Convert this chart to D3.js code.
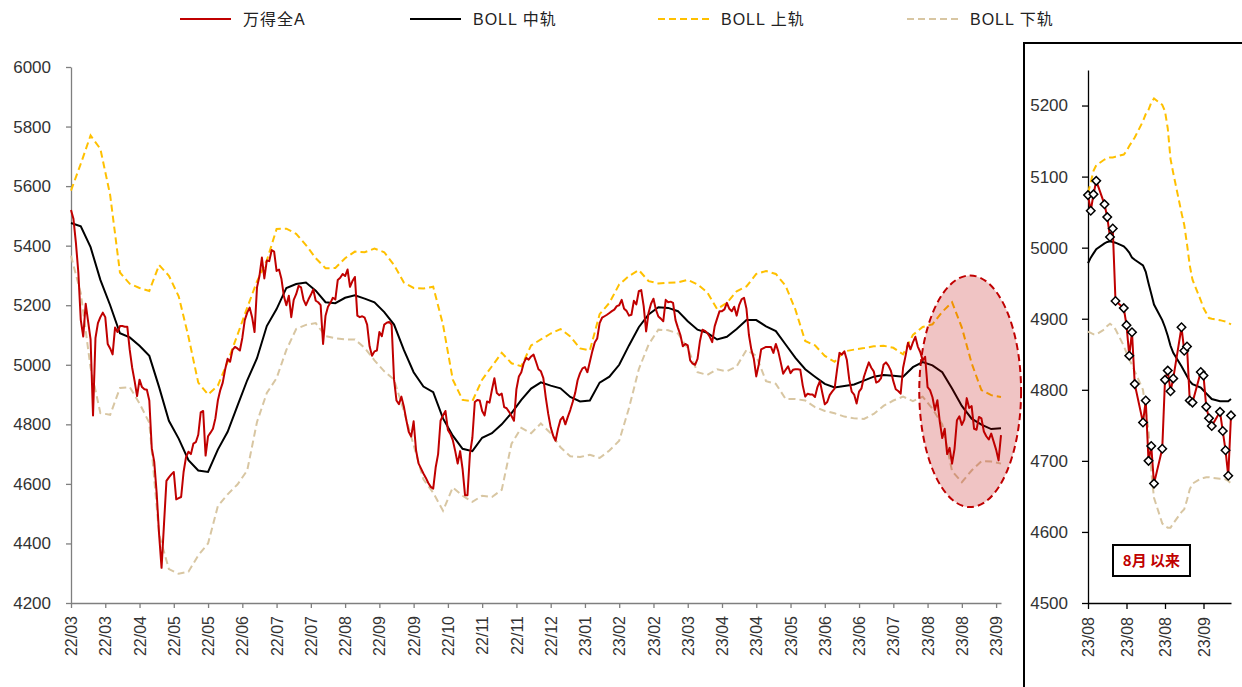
<!DOCTYPE html>
<html>
<head>
<meta charset="utf-8">
<script src="https://cdn.jsdelivr.net/npm/d3@7"></script>
<style>
  body { margin: 0; background: #fff; }
  text { font-family: "Liberation Sans", Arial, "Noto Sans CJK SC", sans-serif; }
</style>
</head>
<body>
<div id="chart"></div>
<script>
// x labels of the main chart, one every 14 trading days
var mainTickLabels = ["22/03", "22/03", "22/04", "22/05", "22/05", "22/06", "22/07", "22/07", "22/08", "22/09",
  "22/09", "22/10", "22/11", "22/11", "22/12", "23/01", "23/02", "23/02", "23/03", "23/04", "23/04", "23/05",
  "23/06", "23/06", "23/07", "23/08", "23/08", "23/09"];
var mainTickStep = 14;
var mainYTicks = [4200, 4400, 4600, 4800, 5000, 5200, 5400, 5600, 5800, 6000];

// wind all A close, daily, from 22/03 to end of July 23
var closeMain = [
  5520, 5490, 5410, 5310, 5150, 5095, 5205, 5145, 5085, 4830,
  5090, 5140, 5160, 5175, 5160, 5070, 5055, 5035, 5125, 5110,
  5130, 5130, 5128, 5128, 5050, 4990, 4945, 4895, 4950, 4925,
  4918, 4916, 4880, 4720, 4675, 4570, 4430, 4318, 4465, 4610,
  4622, 4632, 4640, 4548, 4552, 4556, 4640, 4690, 4708, 4700,
  4735, 4740, 4765, 4840, 4845, 4695, 4760, 4772, 4785, 4820,
  4880, 4915, 4940, 4985, 5020, 5010, 5050, 5060, 5055, 5048,
  5090, 5150, 5175, 5192, 5160, 5110, 5260, 5298, 5360, 5290,
  5350, 5348, 5385, 5380, 5315, 5320, 5288, 5230, 5200, 5232,
  5160, 5218, 5237, 5265,
  5260, 5219, 5200, 5219, 5235, 5253, 5215, 5210, 5200, 5070,
  5165, 5195, 5208, 5225, 5219, 5285, 5292, 5305, 5298, 5320,
  5262, 5281, 5295, 5165, 5160, 5163, 5158, 5135, 5062, 5030,
  5045, 5048, 5110, 5096, 5135, 5141, 5144, 5135, 4950, 4880,
  4868, 4893, 4860, 4815, 4775, 4759, 4810, 4712, 4669, 4652,
  4635, 4620, 4603, 4590, 4584, 4655, 4700, 4812, 4830, 4845,
  4781, 4768, 4747, 4710, 4668, 4710, 4650, 4562, 4562, 4700,
  4755, 4875, 4882, 4880, 4845, 4830, 4877, 4873, 4916, 4955,
  4905, 4898, 4903, 4858, 4854, 4842, 4828, 4812, 4918, 4961,
  4975, 5006, 5023, 5017, 5028,
  5034, 5010, 4985, 4978, 4955, 4890, 4835, 4790, 4762, 4745,
  4785, 4815, 4825, 4800, 4825, 4848, 4875, 4905, 4948, 4972,
  4988, 4992, 4975, 5010, 5045, 5075, 5088, 5140, 5158, 5163,
  5168, 5174, 5180, 5185, 5197, 5200, 5218, 5188, 5181, 5165,
  5168, 5215, 5203, 5247, 5251, 5197, 5112, 5175, 5205, 5222,
  5185, 5162, 5155, 5146, 5218, 5210, 5212, 5208, 5150, 5124,
  5100, 5062, 5070, 5065, 5015, 5004, 5000, 5020, 5080, 5118,
  5114, 5107, 5094, 5076, 5129, 5155, 5180, 5180, 5186, 5208,
  5188, 5180, 5195, 5165, 5200, 5220, 5225, 5188, 5100, 5051,
  5020, 4961, 5000,
  5052, 5056, 5060, 5060, 5060, 5040, 5070, 5045, 5008, 4970,
  4983, 4995, 4972, 4983, 4985, 4985, 4983, 4930, 4893, 4903,
  4900, 4900, 4892, 4925, 4945, 4905, 4867, 4875, 4898, 4910,
  4920, 4983, 5040, 5034, 5045, 5017, 4950, 4910, 4900, 4870,
  4910, 4921, 4960, 4985, 5008, 4990, 4978, 4940, 4944, 4955,
  5000, 5008, 4997, 4980, 4945, 4918, 4912, 4903, 4990, 5030
];

// since August (also the end of the main series)
var augDates = ["2023-08-01", "2023-08-02", "2023-08-03", "2023-08-04", "2023-08-07", "2023-08-08",
  "2023-08-09", "2023-08-10", "2023-08-11", "2023-08-14", "2023-08-15", "2023-08-16", "2023-08-17",
  "2023-08-18", "2023-08-21", "2023-08-22", "2023-08-23", "2023-08-24", "2023-08-25", "2023-08-28",
  "2023-08-29", "2023-08-30", "2023-08-31", "2023-09-01", "2023-09-04", "2023-09-05", "2023-09-06",
  "2023-09-07", "2023-09-08", "2023-09-11", "2023-09-12", "2023-09-13", "2023-09-14", "2023-09-15",
  "2023-09-18", "2023-09-19", "2023-09-20", "2023-09-21", "2023-09-22"];
var closeAug = [5074, 5052, 5075, 5094, 5061, 5043, 5015, 5027, 4925, 4915, 4891, 4848, 4881, 4808,
  4754, 4785, 4700, 4721, 4668, 4717, 4814, 4827, 4798, 4816, 4888, 4855, 4861, 4785, 4782, 4825,
  4820, 4776, 4760, 4749, 4769, 4742, 4715, 4679, 4764];
var augMid = [4978, 4986, 4992, 4998, 5006, 5008, 5009, 5008, 5007, 5002, 4998, 4993, 4986, 4983,
  4975, 4966, 4950, 4935, 4920, 4898, 4888, 4876, 4862, 4852, 4833, 4826, 4819, 4812, 4808, 4803,
  4799, 4795, 4791, 4787, 4784, 4784, 4784, 4784, 4787];
var augUp = [5077, 5092, 5108, 5116, 5124, 5126, 5127, 5127, 5128, 5131, 5136, 5143, 5149, 5155,
  5178, 5188, 5194, 5204, 5210, 5201, 5192, 5168, 5125, 5105, 5049, 5032, 5005, 4975, 4955, 4926,
  4915, 4908, 4901, 4900, 4898, 4897, 4896, 4894, 4892];
var augLow = [4882, 4880, 4878, 4878, 4885, 4890, 4893, 4890, 4885, 4862, 4852, 4843, 4835, 4826,
  4800, 4770, 4744, 4685, 4648, 4612, 4608, 4606, 4606, 4612, 4628, 4632, 4645, 4660, 4668, 4675,
  4676, 4677, 4677, 4676, 4675, 4675, 4674, 4672, 4668];
var augTicks = ["2023-08-01", "2023-08-15", "2023-08-29", "2023-09-12"];
var augYTicks = [4500, 4600, 4700, 4800, 4900, 5000, 5100, 5200];

// BOLL bands of the main chart, one value every 4 trading days
var bollStep = 4;
var bollMid = [5476, 5465, 5395, 5285, 5200, 5106, 5092, 5064, 5030, 4925, 4812, 4752, 4680, 4645,
  4640, 4715, 4775, 4862, 4948, 5022, 5130, 5187, 5258, 5271,
  5276, 5249, 5210, 5207, 5225, 5233, 5222, 5210, 5177, 5135, 5050, 4975, 4927, 4908, 4820, 4762,
  4718, 4710, 4755, 4770, 4800, 4838, 4882, 4920,
  4941, 4930, 4921, 4892, 4877, 4880, 4940, 4960, 5000, 5065, 5126, 5169, 5193, 5191, 5180, 5146,
  5118, 5107, 5085, 5094, 5120, 5150, 5150,
  5129, 5113, 5068, 5023, 4985, 4960, 4936, 4924, 4929, 4934, 4947, 4960, 4966, 4963, 4960, 4992,
  5009, 4998, 4975, 4920, 4862, 4819, 4799, 4784, 4787];
var bollUp = [5585, 5675, 5770, 5725, 5570, 5310, 5272, 5258, 5248, 5335, 5299, 5230, 5094, 4940,
  4900, 4930, 5010, 5100, 5192, 5280, 5350, 5456, 5457, 5440,
  5402, 5358, 5324, 5325, 5358, 5380, 5378, 5390, 5378, 5335, 5276, 5258, 5256, 5262, 5135, 4950,
  4882, 4878, 4950, 4995, 5040, 5005, 4995, 5065,
  5085, 5105, 5120, 5095, 5055, 5048, 5170, 5208, 5270, 5298, 5318, 5281, 5273, 5275, 5277, 5285,
  5270, 5243, 5187, 5208, 5247, 5263, 5305,
  5315, 5305, 5265, 5185, 5080, 5065, 5030, 5010, 5045, 5051, 5056, 5062, 5064, 5057, 5035, 5100,
  5127, 5136, 5178, 5210, 5125, 5005, 4915, 4898, 4892];
var bollLow = [5366, 5240, 4990, 4838, 4832, 4922, 4925, 4870, 4805, 4430, 4314, 4298, 4305, 4360,
  4400, 4525, 4565, 4598, 4645, 4808, 4905, 4955, 5050, 5120,
  5134, 5140, 5096, 5089, 5085, 5085, 5057, 5015, 4978, 4950, 4845, 4730, 4615, 4570, 4510, 4588,
  4560, 4540, 4560, 4556, 4580, 4735, 4788, 4770,
  4803, 4770, 4723, 4693, 4690, 4698, 4687, 4712, 4745, 4855, 4985, 5068, 5118, 5116, 5105, 5055,
  4975, 4966, 4985, 4978, 4995, 5050, 5030,
  4945, 4936, 4885, 4885, 4880, 4858, 4845, 4837, 4826, 4820, 4818, 4835, 4862, 4880, 4893, 4878,
  4893, 4852, 4800, 4643, 4606, 4645, 4676, 4675, 4668];

var seriesNames = ["万得全A", "BOLL 中轨", "BOLL 上轨", "BOLL 下轨"];

// colours
var cRed = "#c00000", cBlack = "#000000", cUp = "#ffc000", cLow = "#d8c6a2";

var closeAll = closeMain.concat(closeAug);
var parseDay = d3.timeParse("%Y-%m-%d");
var fmtInt = d3.format("d");

var svg = d3.select("#chart")
  .append("svg")
  .attr("width", 1242)
  .attr("height", 687);

// ---------- legend
var legendItems = [
  { name: seriesNames[0], color: cRed, dash: null, x: 180 },
  { name: seriesNames[1], color: cBlack, dash: null, x: 410 },
  { name: seriesNames[2], color: cUp, dash: "7,4", x: 658 },
  { name: seriesNames[3], color: cLow, dash: "7,4", x: 907 }
];
var legend = svg.append("g").attr("class", "legend");
legendItems.forEach(function(d) {
  legend.append("line")
    .attr("x1", d.x).attr("x2", d.x + 51)
    .attr("y1", 19).attr("y2", 19)
    .attr("stroke", d.color)
    .attr("stroke-width", 2)
    .attr("stroke-dasharray", d.dash);
  legend.append("text")
    .attr("x", d.x + 63)
    .attr("y", 19)
    .attr("dy", "0.35em")
    .style("font-size", "16px")
    .style("letter-spacing", "1px")
    .attr("fill", "#222")
    .text(d.name);
});

// ---------- main chart
var x = d3.scaleLinear().domain([0, closeAll.length - 1]).range([71, 1001]);
var y = d3.scaleLinear().domain([4200, 6000]).range([603, 67]);

var yAxis = svg.append("g")
  .attr("transform", "translate(71,0)")
  .call(d3.axisLeft(y).tickValues(mainYTicks).tickFormat(fmtInt)
    .tickSize(5).tickSizeOuter(0).tickPadding(15));
yAxis.selectAll("text").style("font-size", "17px").attr("fill", "#333");

var xAxis = svg.append("g")
  .attr("transform", "translate(0,603)")
  .call(d3.axisBottom(x)
    .tickValues(mainTickLabels.map(function(d, i) { return i * mainTickStep; }))
    .tickFormat(function(d, i) { return mainTickLabels[i]; })
    .tickSize(5).tickSizeOuter(0));
xAxis.selectAll("text")
  .attr("transform", "rotate(-90)")
  .attr("x", -13)
  .attr("y", 0)
  .attr("dy", "0.35em")
  .style("text-anchor", "end")
  .style("font-size", "16px")
  .attr("fill", "#333");

[yAxis, xAxis].forEach(function(a) {
  a.select(".domain").attr("stroke", "#7f7f7f").attr("stroke-width", 1.3);
  a.selectAll(".tick line").attr("stroke", "#7f7f7f").attr("stroke-width", 1.3);
});

var bollLine = d3.line()
  .x(function(d, i) { return x(i * bollStep); })
  .y(function(d) { return y(d); });
var closeLine = d3.line()
  .x(function(d, i) { return x(i); })
  .y(function(d) { return y(d); });

svg.append("path").datum(bollLow)
  .attr("d", bollLine).attr("fill", "none")
  .attr("stroke", cLow).attr("stroke-width", 2).attr("stroke-dasharray", "7,4");
svg.append("path").datum(bollUp)
  .attr("d", bollLine).attr("fill", "none")
  .attr("stroke", cUp).attr("stroke-width", 2).attr("stroke-dasharray", "7,4");
svg.append("path").datum(bollMid)
  .attr("d", bollLine).attr("fill", "none")
  .attr("stroke", cBlack).attr("stroke-width", 2);
svg.append("path").datum(closeAll)
  .attr("d", closeLine).attr("fill", "none")
  .attr("stroke", cRed).attr("stroke-width", 2).attr("stroke-linejoin", "round");

// highlight of the august drop
svg.append("ellipse")
  .attr("cx", x(367.4))
  .attr("cy", y(4911))
  .attr("rx", x(388.2) - x(367.4))
  .attr("ry", y(4522) - y(4911))
  .attr("fill", "rgba(192,0,0,0.23)")
  .attr("stroke", cRed)
  .attr("stroke-width", 2)
  .attr("stroke-dasharray", "7,4");

// ---------- right panel: since August
svg.append("rect")
  .attr("x", 1024).attr("y", 43)
  .attr("width", 240).attr("height", 660)
  .attr("fill", "none")
  .attr("stroke", "#000")
  .attr("stroke-width", 2);

var augX = augDates.map(parseDay);
var xr = d3.scaleTime().domain([augX[0], augX[augX.length - 1]]).range([1088, 1231]);
var yr = d3.scaleLinear().domain([4500, 5250]).range([603, 70]);

var ryAxis = svg.append("g")
  .attr("transform", "translate(1088,0)")
  .call(d3.axisLeft(yr).tickValues(augYTicks).tickFormat(fmtInt)
    .tickSize(6).tickSizeOuter(0).tickPadding(14));
ryAxis.selectAll("text").style("font-size", "17px").attr("fill", "#333");

var rxAxis = svg.append("g")
  .attr("transform", "translate(0,603)")
  .call(d3.axisBottom(xr)
    .tickValues(augTicks.map(parseDay))
    .tickFormat(d3.timeFormat("%y/%m"))
    .tickSize(6).tickSizeOuter(0));
rxAxis.selectAll("text")
  .attr("transform", "rotate(-90)")
  .attr("x", -14)
  .attr("y", 0)
  .attr("dy", "0.35em")
  .style("text-anchor", "end")
  .style("font-size", "16px")
  .attr("fill", "#333");

[ryAxis, rxAxis].forEach(function(a) {
  a.select(".domain").attr("stroke", "#000").attr("stroke-width", 1.3);
  a.selectAll(".tick line").attr("stroke", "#000").attr("stroke-width", 1.3);
});

var augLine = d3.line()
  .x(function(d, i) { return xr(augX[i]); })
  .y(function(d) { return yr(d); });

svg.append("path").datum(augLow)
  .attr("d", augLine).attr("fill", "none")
  .attr("stroke", cLow).attr("stroke-width", 2).attr("stroke-dasharray", "7,4");
svg.append("path").datum(augUp)
  .attr("d", augLine).attr("fill", "none")
  .attr("stroke", cUp).attr("stroke-width", 2).attr("stroke-dasharray", "7,4");
svg.append("path").datum(augMid)
  .attr("d", augLine).attr("fill", "none")
  .attr("stroke", cBlack).attr("stroke-width", 2);
svg.append("path").datum(closeAug)
  .attr("d", augLine).attr("fill", "none")
  .attr("stroke", cRed).attr("stroke-width", 2);

svg.selectAll(".augpt")
  .data(closeAug)
  .enter()
  .append("path")
  .attr("class", "augpt")
  .attr("d", d3.symbol().type(d3.symbolSquare).size(36))
  .attr("transform", function(d, i) {
    return "translate(" + xr(augX[i]) + "," + yr(d) + ")rotate(45)";
  })
  .attr("fill", "#fff")
  .attr("stroke", "#000")
  .attr("stroke-width", 1.5);

// label box
svg.append("rect")
  .attr("x", 1113).attr("y", 545)
  .attr("width", 77).attr("height", 31)
  .attr("fill", "#fff")
  .attr("stroke", "#000")
  .attr("stroke-width", 2);
svg.append("text")
  .attr("x", 1151.5).attr("y", 561)
  .attr("dy", "0.35em")
  .attr("text-anchor", "middle")
  .style("font-family", "'Noto Sans CJK SC', sans-serif")
  .style("font-size", "15px")
  .style("font-weight", "bold")
  .attr("fill", cRed)
  .text("8月 以来");
</script>
</body>
</html>
